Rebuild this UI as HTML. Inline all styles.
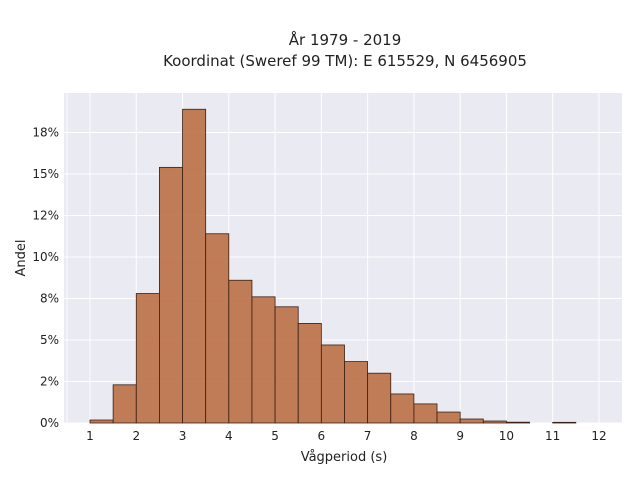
<!DOCTYPE html>
<html><head><meta charset="utf-8"><style>
body{margin:0;background:#fff;font-family:"DejaVu Sans","Liberation Sans",sans-serif;}
</style></head><body>
<svg width="640" height="480" xmlns="http://www.w3.org/2000/svg" id="chart">
<rect x="0" y="0" width="640" height="480" fill="#fff"/>
<text x="345" y="45" text-anchor="middle" font-size="15" fill="#222">År 1979 - 2019</text>
<text x="345" y="66" text-anchor="middle" font-size="15" fill="#222">Koordinat (Sweref 99 TM): E 615529, N 6456905</text>
<rect x="64" y="93" width="558" height="330" fill="#eaeaf2"/>
<g id="grid"></g><g id="bars"></g><g id="ticks"></g>
<text x="344" y="461" text-anchor="middle" font-size="13" fill="#222">Vågperiod (s)</text>
<text transform="translate(25,258) rotate(-90)" text-anchor="middle" font-size="13" fill="#222">Andel</text>
</svg>
<script>
const binStarts=[1,1.5,2,2.5,3,3.5,4,4.5,5,5.5,6,6.5,7,7.5,8,8.5,9,9.5,10,10.5,11,11.5];
const shares=[0.18,2.3,7.8,15.4,18.9,11.4,8.6,7.6,7.0,6.0,4.7,3.7,3.0,1.75,1.15,0.66,0.24,0.12,0.05,0.0,0.04,0.0];
const xTicks=[1,2,3,4,5,6,7,8,9,10,11,12];
const yTicks=[0,2.5,5,7.5,10,12.5,15,17.5];
const yTickLabels=["0%","2%","5%","8%","10%","12%","15%","18%"];
const binWidth=0.5;
const X=v=>90+(v-1)*46.27, Y=v=>423-v*16.6;
const ns="http://www.w3.org/2000/svg";
function mk(t,a,p){const e=document.createElementNS(ns,t);for(const k in a)e.setAttribute(k,a[k]);p.appendChild(e);return e;}
const g=document.getElementById('grid'),b=document.getElementById('bars'),tk=document.getElementById('ticks');
mk('line',{x1:67,x2:67,y1:93,y2:423,stroke:'#fff','stroke-width':1},g);
xTicks.forEach(v=>{const l=mk('line',{x1:X(v),x2:X(v),y1:93,y2:423,stroke:'#fff','stroke-width':1},g);

const t=mk('text',{x:X(v),y:440,'text-anchor':'middle','font-size':12,fill:'#222'},tk);t.textContent=v;
});
yTicks.forEach((v,i)=>{const l=mk('line',{x1:64,x2:622,y1:Y(v),y2:Y(v),stroke:'#fff','stroke-width':1},g);

const t=mk('text',{x:59,y:Y(v)+4,'text-anchor':'end','font-size':12,fill:'#222'},tk);t.textContent=yTickLabels[i];
});
binStarts.forEach((s,i)=>{if(shares[i]<=0)return;const x0=X(s),x1=X(s+binWidth),y=Y(shares[i]);
const r=mk('rect',{x:x0,y:y,width:x1-x0,height:423-y,fill:'#b9673c','fill-opacity':0.85,stroke:'#3a2012','stroke-width':0.8},b);
});
</script>
</body></html>
